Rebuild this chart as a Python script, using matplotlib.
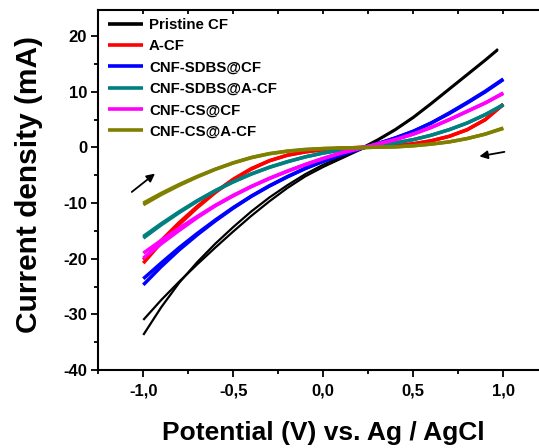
import matplotlib
matplotlib.use("Agg")
import matplotlib.pyplot as plt
from matplotlib.ticker import MultipleLocator, FuncFormatter

plt.rcParams['font.family'] = ['Liberation Sans', 'DejaVu Sans']
plt.rcParams['font.weight'] = 'bold'

# Potential (V)
V = [-1.0, -0.9, -0.8, -0.7, -0.6, -0.5, -0.4, -0.3, -0.2, -0.1,
     0.0, 0.1, 0.2, 0.3, 0.4, 0.5, 0.6, 0.7, 0.8, 0.9, 1.0]
V_pristine = [-1.0, -0.9, -0.8, -0.7, -0.6, -0.5, -0.4, -0.3, -0.2, -0.1,
              0.0, 0.1, 0.2, 0.3, 0.4, 0.5, 0.6, 0.7, 0.8, 0.9, 0.97]

# Current (mA), forward and reverse scan branches
pristine_fwd = [-31.0, -27.4, -24.1, -21.0, -18.0, -15.1, -12.3, -9.7, -7.3, -5.2,
                -3.5, -2.0, -0.5, 1.2, 3.1, 5.3, 7.8, 10.4, 13.0, 15.6, 17.5]
pristine_rev = [-33.7, -28.7, -24.3, -20.6, -17.3, -14.3, -11.5, -9.0, -6.8, -4.8,
                -3.1, -1.7, -0.3, 1.4, 3.3, 5.5, 8.0, 10.6, 13.2, 15.8, 17.7]

acf_fwd = [-20.2, -16.7, -13.5, -10.6, -8.0, -5.7, -3.8, -2.4, -1.4, -0.8,
           -0.4, -0.15, 0.0, 0.1, 0.3, 0.65, 1.2, 2.0, 3.2, 5.0, 7.7]
acf_rev = [-20.8, -17.1, -13.8, -10.8, -8.1, -5.8, -3.9, -2.4, -1.4, -0.8,
           -0.4, -0.15, 0.0, 0.1, 0.3, 0.65, 1.2, 2.0, 3.2, 5.0, 7.8]

sdbs_cf_fwd = [-23.6, -20.75, -18.0, -15.45, -13.05, -10.8, -8.75, -6.9, -5.25, -3.75,
               -2.45, -1.3, -0.3, 0.65, 1.7, 2.9, 4.4, 6.2, 8.1, 10.1, 12.3]
sdbs_cf_rev = [-24.7, -21.4, -18.4, -15.7, -13.2, -10.9, -8.8, -6.95, -5.3, -3.8,
               -2.5, -1.35, -0.3, 0.65, 1.7, 2.9, 4.4, 6.1, 8.0, 10.0, 12.2]

sdbs_acf_fwd = [-16.0, -13.7, -11.55, -9.55, -7.75, -6.15, -4.75, -3.55, -2.55, -1.7,
                -1.0, -0.45, -0.1, 0.3, 0.8, 1.4, 2.2, 3.2, 4.4, 5.9, 7.6]
sdbs_acf_rev = [-16.3, -13.9, -11.7, -9.65, -7.8, -6.2, -4.8, -3.6, -2.6, -1.7,
                -1.0, -0.45, -0.1, 0.3, 0.8, 1.4, 2.2, 3.2, 4.4, 5.9, 7.7]

cs_cf_fwd = [-19.0, -16.7, -14.5, -12.4, -10.4, -8.6, -7.0, -5.55, -4.25, -3.05,
             -1.95, -0.95, -0.2, 0.6, 1.4, 2.4, 3.6, 5.0, 6.5, 8.0, 9.7]
cs_cf_rev = [-19.9, -17.3, -14.9, -12.6, -10.5, -8.7, -7.05, -5.6, -4.3, -3.1,
             -2.0, -1.0, -0.2, 0.6, 1.4, 2.4, 3.6, 5.0, 6.5, 8.0, 9.8]

cs_acf_fwd = [-10.0, -8.25, -6.65, -5.2, -3.9, -2.75, -1.8, -1.1, -0.65, -0.35,
              -0.2, -0.1, -0.05, 0.05, 0.1, 0.3, 0.6, 1.0, 1.6, 2.4, 3.4]
cs_acf_rev = [-10.3, -8.45, -6.8, -5.3, -3.95, -2.8, -1.85, -1.15, -0.7, -0.4,
              -0.2, -0.1, -0.05, 0.05, 0.1, 0.3, 0.6, 1.0, 1.6, 2.4, 3.5]

labels = ['Pristine CF', 'A-CF', 'CNF-SDBS@CF', 'CNF-SDBS@A-CF', 'CNF-CS@CF', 'CNF-CS@A-CF']
colors = ['#000000', '#FF0000', '#0000FF', '#008080', '#FF00FF', '#808000']

series = [
    (V_pristine, pristine_fwd, pristine_rev),
    (V, acf_fwd, acf_rev),
    (V, sdbs_cf_fwd, sdbs_cf_rev),
    (V, sdbs_acf_fwd, sdbs_acf_rev),
    (V, cs_cf_fwd, cs_cf_rev),
    (V, cs_acf_fwd, cs_acf_rev),
]

# scan direction arrows (tail, head) in data units
arrow_left = ((-1.064, -8.0), (-0.935, -4.7))
arrow_right = ((1.006, -0.8), (0.867, -1.6))

fig = plt.figure(figsize=(5.39, 4.48), dpi=100)
ax = fig.add_axes([98.3 / 539, 78 / 448, 450 / 539, 360 / 448])

for (v, fwd, rev), lab, col in zip(series, labels, colors):
    lw = 1.6 if col == '#000000' else 2.5
    ax.plot(v, fwd, color=col, lw=lw, label=lab, solid_capstyle='butt')
    ax.plot(v, rev, color=col, lw=lw, solid_capstyle='butt')

for tail, head in (arrow_left, arrow_right):
    ax.annotate('', xy=head, xytext=tail,
                arrowprops=dict(arrowstyle='-|>', color='black', lw=1.3,
                                mutation_scale=12, shrinkA=0, shrinkB=0))

ax.set_xlim(-1.25, 1.25)
ax.set_ylim(-40, 24.7)

ax.xaxis.set_major_locator(MultipleLocator(0.5))
ax.xaxis.set_minor_locator(MultipleLocator(0.25))
ax.yaxis.set_major_locator(MultipleLocator(10))
ax.yaxis.set_minor_locator(MultipleLocator(5))
ax.xaxis.set_major_formatter(FuncFormatter(lambda x, p: f'{x:.1f}'.replace('.', ',')))
ax.yaxis.set_major_formatter(FuncFormatter(lambda y, p: f'{y:.0f}'))

ax.tick_params(axis='x', which='major', direction='out', length=5, width=1.3,
               labelsize=12, pad=5, top=True)
ax.tick_params(axis='x', which='minor', direction='out', length=3, width=1.3, top=True)
ax.tick_params(axis='y', which='major', direction='out', length=5, width=1.3,
               labelsize=12, pad=3)
ax.tick_params(axis='y', which='minor', direction='out', length=3, width=1.3)
# top ticks point inward
for t in ax.xaxis.get_major_ticks() + ax.xaxis.get_minor_ticks():
    t.tick2line.set_marker(3)
    t.tick2line.set_markersize(3)

for lab in ax.get_xticklabels() + ax.get_yticklabels():
    lab.set_fontweight('bold')

for s in ['left', 'bottom', 'top']:
    ax.spines[s].set_linewidth(1.5)
ax.spines['right'].set_visible(False)

ax.set_xlabel('Potential (V) vs. Ag / AgCl', fontsize=19, fontweight='bold')
ax.set_ylabel('Current density (mA)', fontsize=21.5, fontweight='bold')
ax.xaxis.set_label_coords(0.5, -0.143)
ax.yaxis.set_label_coords(-0.123, 0.514)

leg = ax.legend(loc='upper left', frameon=False, fontsize=10.8, handlelength=2.33,
                handletextpad=0.4, labelspacing=0.49, borderaxespad=0.25,
                bbox_to_anchor=(0.0, 1.005))
for t in leg.get_texts():
    t.set_fontweight('bold')
for h in leg.get_lines():
    h.set_linewidth(2.6)

fig.savefig('out.png', dpi=100)
